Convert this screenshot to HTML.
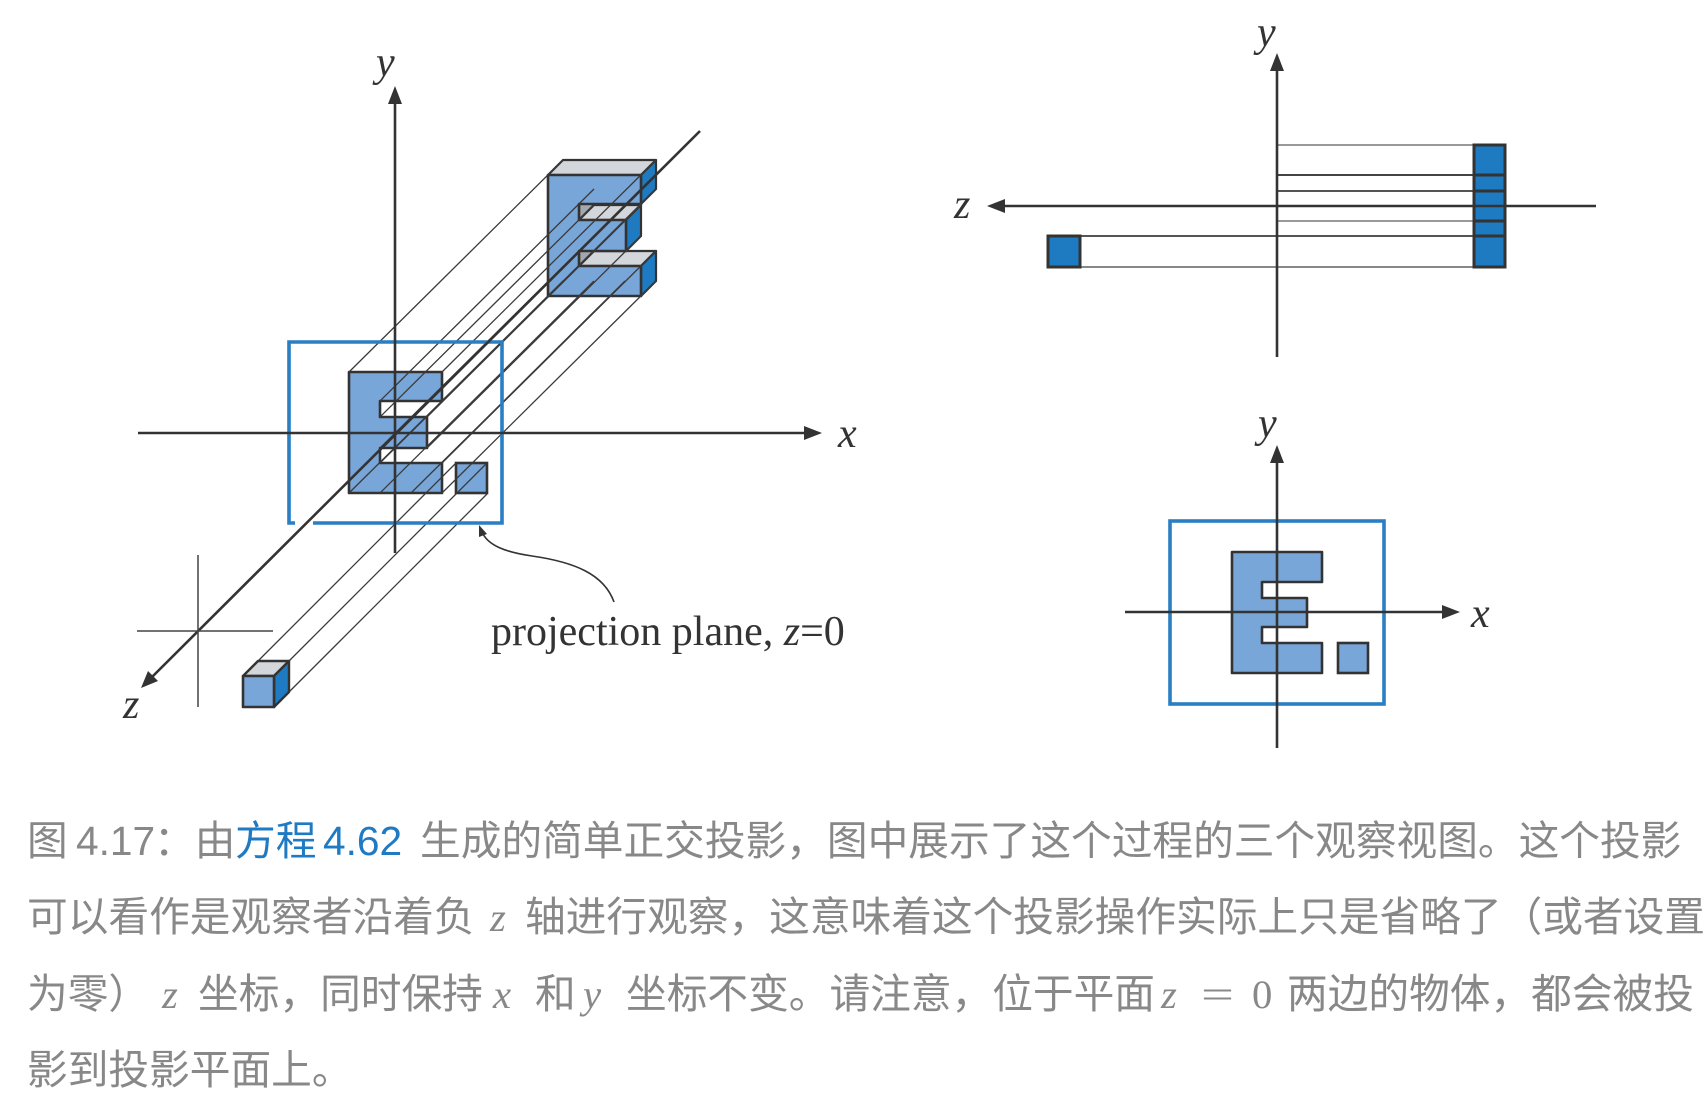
<!DOCTYPE html>
<html><head><meta charset="utf-8"><style>
html,body{margin:0;padding:0;background:#fff;}
svg{display:block;}
.lab{font-family:"Liberation Serif",serif;font-style:italic;font-size:42px;fill:#333;}
.cap{font-family:"Liberation Sans","Noto Sans CJK SC",sans-serif;font-size:40.7px;fill:#888;}
.m{font-family:"Liberation Serif",serif;font-style:italic;font-size:40.7px;fill:#888;}
.mr{font-family:"Liberation Serif",serif;font-size:40.7px;fill:#888;}
</style></head><body>
<svg width="1708" height="1095" viewBox="0 0 1708 1095" xmlns="http://www.w3.org/2000/svg">
<rect width="1708" height="1095" fill="#fff"/>

<!-- ===== LEFT 3D DIAGRAM ===== -->
<!-- front E in plane -->
<polygon points="349,372 442,372 442,401 380,401 380,417 427,417 427,448 380,448 380,463 442,463 442,493 349,493" fill="#79a6d8" stroke="#333" stroke-width="2.6" stroke-linejoin="round"/>
<rect x="456" y="463" width="31" height="30" fill="#79a6d8" stroke="#333" stroke-width="2.6"/>

<!-- back E solid -->
<g stroke="#333" stroke-width="2.2" stroke-linejoin="round">
<polygon points="579,204 594,189 594,205 579,220" fill="#a4a8ad"/>
<polygon points="579,251 594,236 594,251 579,266" fill="#a4a8ad"/>
<polygon points="579,220 626,220 641,205 594,205" fill="#d3d6da"/>
<polygon points="579,266 641,266 656,251 594,251" fill="#d3d6da"/>
<polygon points="626,220 641,205 641,236 626,251" fill="#1f7bc1"/>
<polygon points="641,266 656,251 656,281 641,296" fill="#1f7bc1"/>
<polygon points="548,175 641,175 656,160 563,160" fill="#d3d6da"/>
<polygon points="641,175 656,160 656,189 641,204" fill="#1f7bc1"/>
<polygon points="548,175 641,175 641,204 579,204 579,220 626,220 626,251 579,251 579,266 641,266 641,296 548,296" fill="#79a6d8" stroke-width="2.6"/>
</g>

<!-- cube -->
<g stroke="#333" stroke-width="2.4" stroke-linejoin="round">
<polygon points="243,676 274,676 289,661 258,661" fill="#d3d6da"/>
<polygon points="274,676 289,661 289,692 274,707" fill="#1f7bc1"/>
<rect x="243" y="676" width="31" height="31" fill="#79a6d8" stroke-width="2.6"/>
</g>

<!-- projector lines -->
<g stroke="#3a3a3a" stroke-width="1.3" fill="none">
<line x1="349" y1="372" x2="563" y2="160"/>
<line x1="442" y1="372" x2="656" y2="160"/>
<line x1="442" y1="401" x2="656" y2="189"/>
<line x1="380" y1="401" x2="594" y2="189"/>
<line x1="380" y1="417" x2="594" y2="205"/>
<line x1="427" y1="417" x2="641" y2="205"/>
<line x1="427" y1="448" x2="641" y2="236"/>
<line x1="380" y1="448" x2="594" y2="236"/>
<line x1="380" y1="463" x2="594" y2="251"/>
<line x1="442" y1="463" x2="656" y2="251"/>
<line x1="442" y1="493" x2="656" y2="281"/>
<line x1="349" y1="493" x2="563" y2="281"/>
<line x1="380" y1="493" x2="594" y2="281"/>
<line x1="411" y1="493" x2="625" y2="281"/>
<line x1="258" y1="661" x2="456" y2="463"/>
<line x1="289" y1="661" x2="487" y2="463"/>
<line x1="289" y1="692" x2="487" y2="494"/>
</g>

<!-- projection plane rect -->
<path d="M295,523 H289 V342 H502 V523 H313" fill="none" stroke="#2a7fc4" stroke-width="3.6"/>

<!-- axes -->
<g stroke="#333" stroke-width="2.6">
<line x1="395" y1="553" x2="395" y2="100"/>
<line x1="138" y1="433" x2="808" y2="433"/>
<line x1="700" y1="131" x2="152" y2="677"/>
</g>
<g fill="#333">
<polygon points="395,86 388,104 402,104"/>
<polygon points="822,433 804,426 804,440"/>
<polygon points="141,688 158,681 148,671"/>
</g>
<g stroke="#444" stroke-width="1.5">
<line x1="198" y1="555" x2="198" y2="707"/>
<line x1="137" y1="631" x2="273" y2="631"/>
</g>
<text class="lab" x="376" y="76">y</text>
<text class="lab" x="838" y="447">x</text>
<text class="lab" x="123" y="718">z</text>

<!-- curved arrow + label -->
<path d="M614,602 C604,574 574,562 532,556 C504,552 489,545 483,534" fill="none" stroke="#333" stroke-width="1.6"/>
<polygon points="479,525 487,534 479,537" fill="#333"/>
<text x="491" y="645" style="font-family:'Liberation Serif',serif;font-size:42px;fill:#333;">projection plane, <tspan font-style="italic">z</tspan>=0</text>

<!-- ===== RIGHT TOP (side view) ===== -->
<g stroke-width="2">
<line x1="1277" y1="145" x2="1474" y2="145" stroke="#999"/>
<line x1="1277" y1="175" x2="1474" y2="175" stroke="#444"/>
<line x1="1277" y1="191" x2="1474" y2="191" stroke="#555"/>
<line x1="1277" y1="221" x2="1474" y2="221" stroke="#999"/>
<line x1="1080" y1="236" x2="1474" y2="236" stroke="#555"/>
<line x1="1080" y1="267" x2="1474" y2="267" stroke="#888"/>
</g>
<rect x="1474" y="145" width="31" height="122" fill="#1f7bc1" stroke="#333" stroke-width="3"/>
<g stroke="#333" stroke-width="3">
<line x1="1474" y1="175" x2="1505" y2="175"/>
<line x1="1474" y1="191" x2="1505" y2="191"/>
<line x1="1474" y1="221" x2="1505" y2="221"/>
<line x1="1474" y1="236" x2="1505" y2="236"/>
</g>
<rect x="1048" y="236" width="32" height="31" fill="#1f7bc1" stroke="#333" stroke-width="3"/>
<g stroke="#333" stroke-width="2.6">
<line x1="1277" y1="357" x2="1277" y2="68"/>
<line x1="1596" y1="206" x2="1003" y2="206"/>
</g>
<g fill="#333">
<polygon points="1277,53 1270,71 1284,71"/>
<polygon points="987,206 1005,199 1005,213"/>
</g>
<text class="lab" x="1257" y="46">y</text>
<text class="lab" x="954" y="218">z</text>

<!-- ===== RIGHT BOTTOM (front view) ===== -->
<rect x="1170" y="521" width="214" height="183" fill="none" stroke="#2a7fc4" stroke-width="3.6"/>
<polygon points="1232,552 1322,552 1322,582 1262,582 1262,598 1307,598 1307,627 1262,627 1262,643 1322,643 1322,673 1232,673" fill="#79a6d8" stroke="#333" stroke-width="2.6" stroke-linejoin="round"/>
<rect x="1338" y="643" width="30" height="30" fill="#79a6d8" stroke="#333" stroke-width="2.6"/>
<g stroke="#333" stroke-width="2.6">
<line x1="1277" y1="748" x2="1277" y2="460"/>
<line x1="1125" y1="612" x2="1445" y2="612"/>
</g>
<g fill="#333">
<polygon points="1277,445 1270,463 1284,463"/>
<polygon points="1460,612 1442,605 1442,619"/>
</g>
<text class="lab" x="1258" y="437">y</text>
<text class="lab" x="1471" y="627">x</text>

<!-- ===== CAPTION ===== -->
<text class="cap" x="27" y="855">图</text>
<text class="cap" x="76" y="855">4.17</text>
<text class="cap" x="154" y="855">：由</text>
<text class="cap" x="235" y="855" style="fill:#1f7ac4">方程</text>
<text class="cap" x="323" y="855" style="fill:#1f7ac4">4.62</text>
<text class="cap" x="420" y="855">生成的简单正交投影，图中展示了这个过程的三个观察视图。这个投影</text>

<text class="cap" x="27" y="931">可以看作是观察者沿着负</text>
<text class="m" x="490" y="931">z</text>
<text class="cap" x="525" y="931">轴进行观察，这意味着这个投影操作实际上只是省略了（或者设置</text>

<text class="cap" x="27" y="1008">为零）</text>
<text class="m" x="162" y="1008">z</text>
<text class="cap" x="198" y="1008">坐标，同时保持</text>
<text class="m" x="493" y="1008">x</text>
<text class="cap" x="535" y="1008">和</text>
<text class="m" x="583" y="1008">y</text>
<text class="cap" x="626" y="1008">坐标不变。请注意，位于平面</text>
<text class="m" x="1161" y="1008">z</text>
<text class="mr" x="1201" y="1008" textLength="33" lengthAdjust="spacingAndGlyphs">=</text>
<text class="mr" x="1252" y="1008">0</text>
<text class="cap" x="1287" y="1008">两边的物体，都会被投</text>

<text class="cap" x="27" y="1084">影到投影平面上。</text>
</svg>
</body></html>
